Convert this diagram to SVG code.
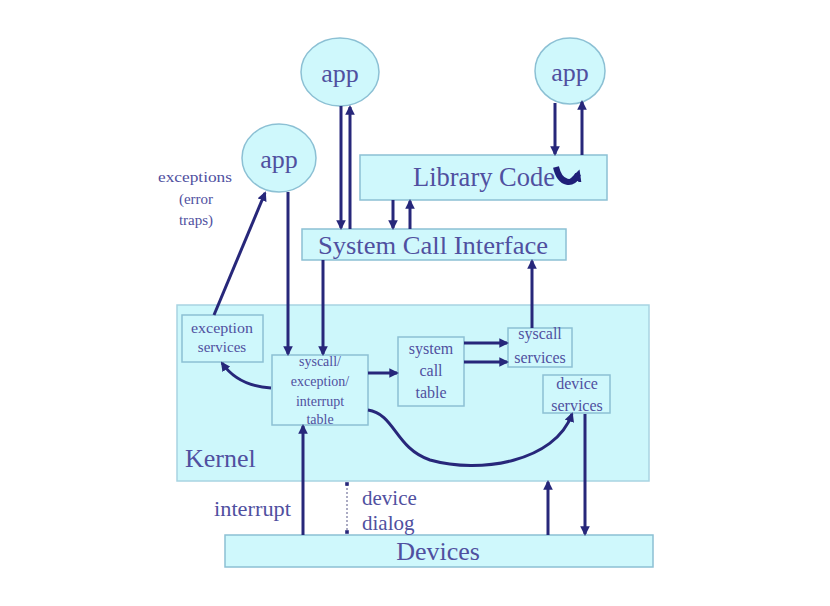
<svg xmlns="http://www.w3.org/2000/svg" width="830" height="606" viewBox="0 0 830 606">
<defs>
<marker id="ah" viewBox="0 0 10 10" refX="8" refY="5" markerWidth="3.2" markerHeight="3.2" orient="auto" markerUnits="strokeWidth">
<path d="M0,0 L10,5 L0,10 z" fill="#27277a"/>
</marker>
<marker id="ahs" viewBox="0 0 10 10" refX="6" refY="5" markerWidth="2" markerHeight="2" orient="auto" markerUnits="strokeWidth">
<path d="M0,0 L10,5 L0,10 z" fill="#1f1f78"/>
</marker>
<marker id="dot" viewBox="0 0 10 10" refX="5" refY="5" markerWidth="4" markerHeight="4" orient="auto" markerUnits="strokeWidth">
<rect x="2" y="2" width="6" height="6" fill="#27277a"/>
</marker>
<style>
.box{fill:#cff8fc;stroke:#8cc0d4;stroke-width:1.5}
.kern{fill:#cdf7fb;stroke:#a8d4e2;stroke-width:1.5}
.t{font-family:"Liberation Serif","Times New Roman",serif;fill:#5050a0}
.c{text-anchor:middle}
.a{fill:none;stroke:#27277a;stroke-width:3;marker-end:url(#ah)}
</style>
</defs>
<rect width="830" height="606" fill="#ffffff"/>

<g id="kernel">
<rect class="kern" x="177" y="305" width="472" height="176"/>
<text class="t" x="185" y="467" font-size="26">Kernel</text>
</g>

<g id="app1">
<ellipse class="box" cx="340" cy="72" rx="39" ry="34"/>
<text class="t c" x="340" y="82" font-size="26">app</text>
</g>
<g id="app2">
<ellipse class="box" cx="570" cy="71" rx="35" ry="33"/>
<text class="t c" x="570" y="81" font-size="26">app</text>
</g>
<g id="app3">
<ellipse class="box" cx="279" cy="158" rx="37" ry="34"/>
<text class="t c" x="279" y="168" font-size="26">app</text>
</g>

<g id="library">
<rect class="box" x="360" y="155" width="247" height="45"/>
<text class="t" x="413" y="186" font-size="27" textLength="142" lengthAdjust="spacingAndGlyphs">Library Code</text>
</g>

<g id="sci">
<rect class="box" x="302" y="229" width="264" height="31"/>
<text class="t" x="318" y="254" font-size="26" textLength="230" lengthAdjust="spacingAndGlyphs">System Call Interface</text>
</g>

<g id="exception-services">
<rect class="box" x="182" y="315" width="81" height="47"/>
<text class="t c" x="222" y="333" font-size="15" textLength="62" lengthAdjust="spacingAndGlyphs">exception</text>
<text class="t c" x="222" y="352" font-size="15">services</text>
</g>

<g id="dispatch-table">
<rect class="box" x="272" y="355" width="96" height="70"/>
<text class="t c" x="320" y="366" font-size="14">syscall/</text>
<text class="t c" x="320" y="386" font-size="14">exception/</text>
<text class="t c" x="320" y="406" font-size="14">interrupt</text>
<text class="t c" x="320" y="424" font-size="14">table</text>
</g>

<g id="system-call-table">
<rect class="box" x="398" y="337" width="66" height="69"/>
<text class="t c" x="431" y="354" font-size="16">system</text>
<text class="t c" x="431" y="376" font-size="16">call</text>
<text class="t c" x="431" y="398" font-size="16">table</text>
</g>

<g id="syscall-services">
<rect class="box" x="508" y="328" width="64" height="39"/>
<text class="t c" x="540" y="339" font-size="16">syscall</text>
<text class="t c" x="540" y="363" font-size="16">services</text>
</g>

<g id="device-services">
<rect class="box" x="543" y="375" width="67" height="38"/>
<text class="t c" x="577" y="389" font-size="16">device</text>
<text class="t c" x="577" y="411" font-size="16">services</text>
</g>

<g id="devices">
<rect class="box" x="225" y="535" width="428" height="32"/>
<text class="t c" x="438" y="560" font-size="26">Devices</text>
</g>

<g id="labels">
<text class="t c" x="195" y="182" font-size="15" textLength="74" lengthAdjust="spacingAndGlyphs">exceptions</text>
<text class="t c" x="196" y="204" font-size="15">(error</text>
<text class="t c" x="196" y="225" font-size="15">traps)</text>
<text class="t" x="214" y="516" font-size="21" textLength="77" lengthAdjust="spacingAndGlyphs">interrupt</text>
<text class="t" x="362" y="505" font-size="21">device</text>
<text class="t" x="362" y="530" font-size="21">dialog</text>
</g>

<g id="connectors">
<line class="a" x1="341" y1="106" x2="341" y2="228"/>
<line class="a" x1="350" y1="229" x2="350" y2="107"/>
<line class="a" x1="555" y1="103" x2="555" y2="154"/>
<line class="a" x1="582" y1="155" x2="582" y2="102"/>
<path d="M556,167 C560,185 574,186 578,174" fill="none" stroke="#1f1f78" stroke-width="6" marker-end="url(#ahs)"/>
<line class="a" x1="393" y1="200" x2="393" y2="228"/>
<line class="a" x1="410" y1="229" x2="410" y2="201"/>
<line class="a" x1="288" y1="192" x2="288" y2="354"/>
<line class="a" x1="323" y1="260" x2="323" y2="354"/>
<line class="a" x1="214" y1="315" x2="265" y2="193"/>
<path class="a" d="M271,388 Q238,386 222,363"/>
<line class="a" x1="368" y1="373" x2="397" y2="373"/>
<line class="a" x1="464" y1="343" x2="507" y2="343"/>
<line class="a" x1="464" y1="362" x2="507" y2="362"/>
<line class="a" x1="532" y1="328" x2="532" y2="261"/>
<path class="a" d="M368,410 C395,414 395,448 430,460 C480,474 555,462 572,414"/>
<line class="a" x1="585" y1="414" x2="585" y2="534"/>
<line class="a" x1="548" y1="535" x2="548" y2="482"/>
<line class="a" x1="303" y1="535" x2="303" y2="426"/>
<line x1="347" y1="484" x2="347" y2="532" stroke="#9090b0" stroke-width="1.5" stroke-dasharray="2,2" marker-start="url(#dot)" marker-end="url(#dot)"/>
</g>
</svg>
